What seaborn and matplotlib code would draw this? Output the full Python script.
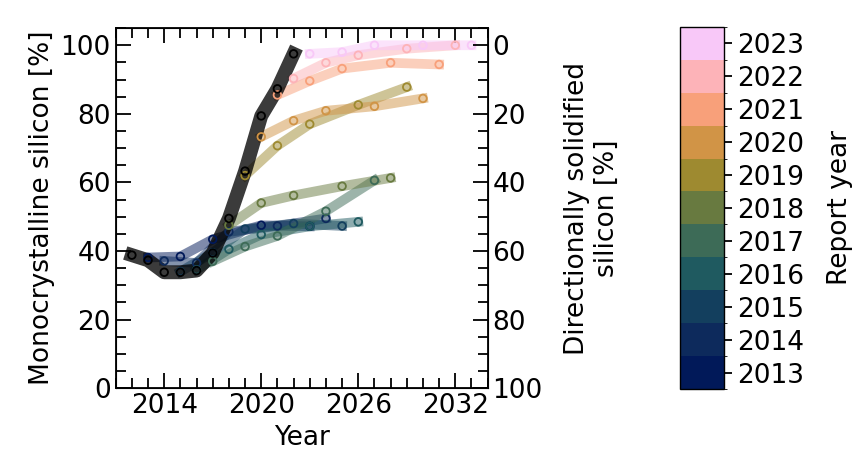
import matplotlib
matplotlib.use("Agg")
import matplotlib.pyplot as plt
import matplotlib.ticker as ticker
from matplotlib.colors import ListedColormap, BoundaryNorm
import seaborn as sns
import pandas as pd

# actual market share of monocrystalline silicon
actual_years = [2012, 2013, 2014, 2015, 2016, 2017, 2018, 2019, 2020, 2021, 2022]
actual_share = [38.8, 37.3, 33.8, 33.8, 34.3, 39.4, 49.5, 63.3, 79.4, 87.3, 97.5]

# projections from each report
report_years = [2013, 2014, 2015, 2016, 2017, 2018, 2019, 2020, 2021, 2022, 2023]
proj_years = {
    2013: [2013, 2015, 2017, 2020, 2023],
    2014: [2014, 2016, 2018, 2021, 2024],
    2015: [2015, 2017, 2019, 2022, 2025],
    2016: [2016, 2018, 2020, 2023, 2026],
    2017: [2017, 2019, 2021, 2024, 2027],
    2018: [2018, 2020, 2022, 2025, 2028],
    2019: [2019, 2021, 2023, 2026, 2029],
    2020: [2020, 2022, 2024, 2027, 2030],
    2021: [2021, 2023, 2025, 2028, 2031],
    2022: [2022, 2024, 2026, 2029, 2032],
    2023: [2023, 2025, 2027, 2030, 2033],
}
proj_share = {
    2013: [38.1, 38.4, 43.4, 47.5, 47.2],
    2014: [37.1, 36.5, 45.6, 47.3, 49.5],
    2015: [34.0, 39.5, 46.4, 48.0, 47.3],
    2016: [34.5, 40.5, 44.8, 47.2, 48.5],
    2017: [37.0, 41.3, 44.4, 51.6, 60.6],
    2018: [47.5, 54.0, 56.2, 58.9, 61.3],
    2019: [62.0, 70.7, 77.0, 82.6, 87.8],
    2020: [73.3, 78.0, 80.9, 82.2, 84.5],
    2021: [85.5, 89.6, 93.2, 94.9, 94.4],
    2022: [90.3, 94.9, 97.1, 99.0, 100.0],
    2023: [97.5, 98.0, 100.0, 100.0, 100.0],
}
report_colors = ["#011959", "#0d2a5c", "#133f5e", "#1f5a60", "#3d6b57", "#687a40",
                 "#9e8a30", "#d19446", "#f8a07a", "#fdb3b8", "#f8c8f8"]

rows = []
for r in report_years:
    for y, v in zip(proj_years[r], proj_share[r]):
        rows.append({"Report": r, "Year": y, "Share": v})
df = pd.DataFrame(rows)
actual = pd.DataFrame({"Year": actual_years, "Share": actual_share})
palette = dict(zip(report_years, report_colors))

sns.set_style("ticks")
plt.rcParams["font.family"] = ["DejaVu Sans"]
plt.rcParams["font.size"] = 19
plt.rcParams["lines.solid_capstyle"] = "projecting"
for k in ("text.color", "axes.labelcolor", "xtick.color", "ytick.color", "axes.edgecolor"):
    plt.rcParams[k] = "black"

fig = plt.figure(figsize=(8.57, 4.61), dpi=100)
ax = fig.add_axes([0.135, 0.158, 0.434, 0.781])

sns.lineplot(data=df, x="Year", y="Share", hue="Report", palette=palette,
             units="Report", estimator=None, linewidth=7, alpha=0.5,
             legend=False, ax=ax, zorder=2)
sns.lineplot(data=actual, x="Year", y="Share", color="black", linewidth=10,
             alpha=0.77, ax=ax, zorder=3)
sns.scatterplot(data=df, x="Year", y="Share", hue="Report", palette=palette,
                s=30, legend=False, ax=ax, zorder=4)
pts = ax.collections[-1]
pts.set_edgecolors(pts.get_facecolors())
pts.set_facecolors("none")
pts.set_linewidths(1.3)
sns.scatterplot(data=actual, x="Year", y="Share", s=30, ax=ax, zorder=5,
                facecolors="none", edgecolors="black", linewidths=1.3)

ax.set_xlim(2011, 2034)
ax.set_ylim(0, 105)
ax.xaxis.set_major_locator(ticker.FixedLocator([2014, 2020, 2026, 2032]))
ax.xaxis.set_minor_locator(ticker.MultipleLocator(1))
ax.yaxis.set_major_locator(ticker.MultipleLocator(20))
ax.yaxis.set_minor_locator(ticker.MultipleLocator(5))
ax.tick_params(which="both", direction="in", top=True, right=False, width=1.3)
ax.tick_params(which="major", length=11)
ax.tick_params(which="minor", length=7)
ax.set_xlabel("Year")
ax.set_ylabel("Monocrystalline silicon [%]")
for s in ax.spines.values():
    s.set_linewidth(1.3)

ax2 = ax.twinx()
ax2.set_ylim(100, -5)
ax2.yaxis.set_major_locator(ticker.MultipleLocator(20))
ax2.yaxis.set_minor_locator(ticker.MultipleLocator(5))
ax2.tick_params(which="both", direction="in", width=1.3)
ax2.tick_params(which="major", length=11)
ax2.tick_params(which="minor", length=7)
ax2.set_ylabel("Directionally solidified\nsilicon [%]", labelpad=15)

cax = fig.add_axes([0.794, 0.156, 0.051, 0.786])
cmap = ListedColormap(report_colors)
norm = BoundaryNorm([y - 0.5 for y in report_years] + [report_years[-1] + 0.5], cmap.N)
sm = plt.cm.ScalarMappable(cmap=cmap, norm=norm)
cb = fig.colorbar(sm, cax=cax, ticks=report_years)
cb.set_label("Report year", labelpad=16)
cb.ax.tick_params(length=6, width=1.3)
cb.outline.set_linewidth(1.0)

fig.savefig("out.png", dpi=100)
